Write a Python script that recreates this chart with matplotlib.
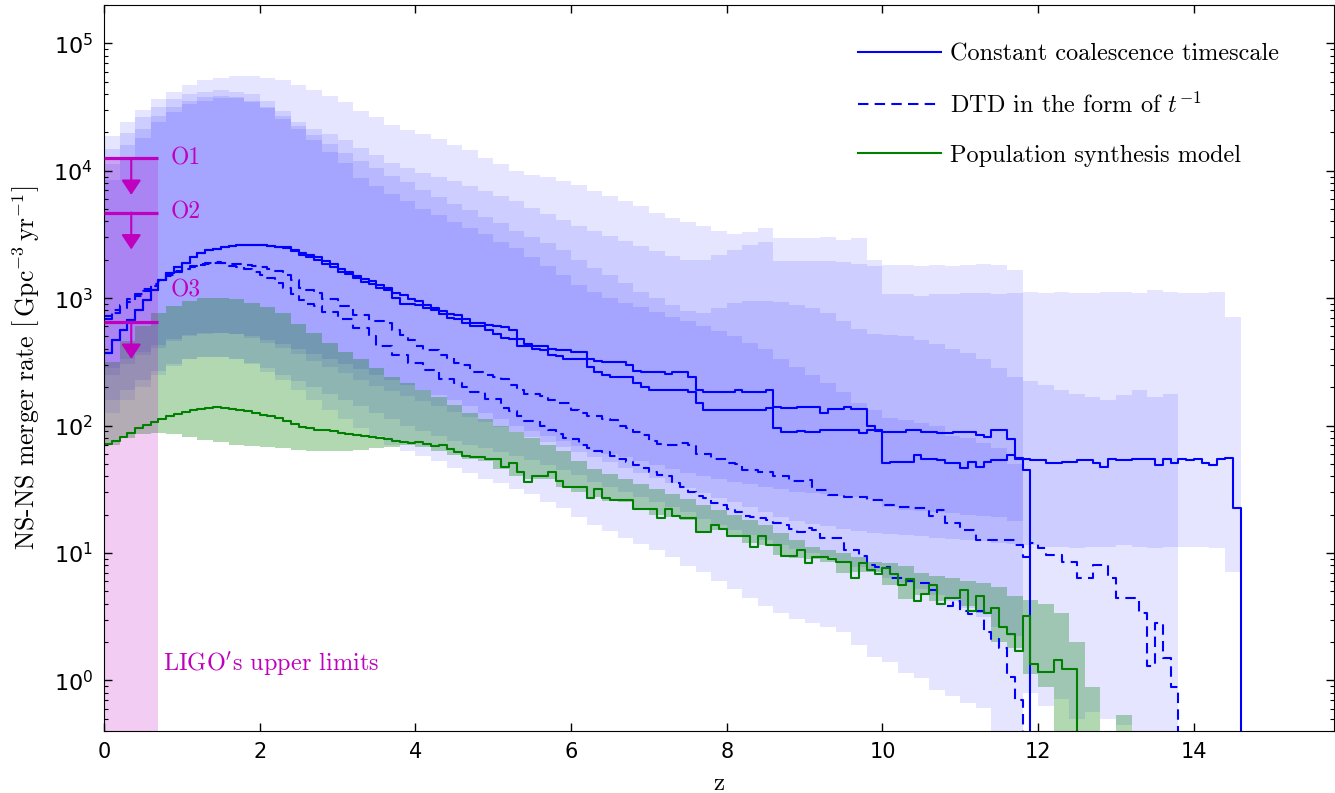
import numpy as np
import matplotlib
matplotlib.use('Agg')
import matplotlib.pyplot as plt
from matplotlib.lines import Line2D

# bin edges in redshift (lines: 0.1 wide, bands: 0.2 wide)
line_edges = np.round(np.arange(0, 14.65, 0.1), 1)
band_edges = np.round(np.arange(0, 14.65, 0.2), 1)

# --- merger rate curves [Gpc^-3 yr^-1], one value per 0.1 bin starting at z=0
solid_a = [368, 469, 562, 673, 807, 967, 1160, 1390, 1570, 1750,
           1900, 2100, 2250, 2380, 2420, 2530, 2560, 2610, 2630, 2630,
           2610, 2570, 2540, 2500, 2390, 2250, 2200, 2100, 1950, 1850,
           1700, 1600, 1500, 1420, 1360, 1260, 1200, 1100, 1064, 980,
           944, 880, 837, 790, 755, 740, 680, 640, 633, 610,
           608, 590, 560, 480, 440, 424, 424, 400, 392, 392,
           380, 380, 330, 320, 313, 313, 313, 300, 270, 262,
           262, 262, 255, 262, 262, 240, 190, 183, 183, 183,
           183, 190, 183, 183, 183, 190, 140, 138, 138, 140,
           140, 140, 125, 135, 135, 141, 135, 135, 100, 91,
           89, 89, 89, 92, 92, 89, 89, 88, 88, 89,
           89, 89, 84, 82, 92, 92, 78, 56, 45]
solid_b = [368, 469, 562, 673, 807, 967, 1160, 1390, 1570, 1750,
           1900, 2100, 2250, 2380, 2420, 2530, 2560, 2600, 2620, 2620,
           2600, 2560, 2520, 2470, 2350, 2180, 2120, 2000, 1850, 1750,
           1600, 1550, 1450, 1350, 1300, 1200, 1150, 1000, 907, 907,
           880, 837, 800, 755, 700, 680, 640, 608, 600, 560,
           520, 490, 478, 424, 420, 400, 392, 361, 350, 334,
           334, 334, 290, 262, 250, 242, 242, 242, 215, 200,
           190, 190, 190, 190, 190, 183, 150, 133, 133, 133,
           133, 133, 133, 133, 133, 138, 95, 89, 89, 90,
           89, 89, 92, 92, 92, 92, 92, 87, 92, 92,
           50.5, 52, 52, 52, 58.6, 55, 55, 53.6, 50.5, 50.5,
           46, 52, 47.5, 52, 53.6, 53.6, 58.6, 55, 55, 53.6,
           53.6, 50.5, 50.5, 52, 52, 53.6, 53.6, 50.5, 47.5, 55,
           53.6, 53.6, 55, 55, 55, 49, 55, 51, 55, 53.6,
           55, 50.5, 49, 55, 56, 22.4]
dashed_a = [680, 760, 840, 940, 1040, 1140, 1250, 1370, 1490, 1590,
            1690, 1770, 1830, 1870, 1890, 1880, 1800, 1750, 1680, 1600,
            1520, 1450, 1320, 1200, 1080, 960, 900, 871, 773, 773,
            685, 685, 583, 583, 500, 424, 424, 361, 361, 308,
            308, 273, 273, 233, 233, 215, 200, 183, 183, 162,
            162, 138, 130, 118, 109, 109, 100, 92, 86, 80,
            79, 70, 67, 63, 62, 58, 55, 52, 49, 46,
            43, 41, 40, 35.5, 33, 30, 28, 27, 24.5, 23.8,
            22, 21, 19.5, 19, 18.7, 18, 17.3, 16.5, 15.3, 14.7,
            15.6, 15.1, 13, 13, 13, 10.5, 10.5, 9.5, 8.0, 7.8,
            7.8, 6.3, 6.3, 6.0, 5.8, 5.8, 5.1, 4.0, 3.8, 4.2,
            3.5, 3.3, 3.5, 2.4, 2.1, 1.8, 1.07, 0.7]
dashed_b = [720, 800, 880, 980, 1080, 1180, 1280, 1400, 1520, 1620,
            1710, 1790, 1850, 1890, 1910, 1900, 1870, 1850, 1820, 1780,
            1740, 1700, 1620, 1520, 1400, 1200, 1150, 1100, 982, 982,
            871, 871, 743, 743, 658, 658, 640, 560, 518, 470,
            424, 392, 392, 360, 339, 310, 296, 262, 262, 250,
            242, 230, 207, 190, 176, 176, 169, 160, 150, 150,
            133, 125, 118, 118, 113, 110, 100, 95, 89, 85,
            76, 72, 70, 70, 73, 70, 60, 60, 55, 55,
            51, 50, 45, 45, 43, 43, 40, 40, 37, 37,
            37.3, 31.2, 31.2, 28.5, 28.5, 27.6, 27.6, 27.6, 26, 26,
            23.8, 23.8, 23.1, 23.1, 22.4, 22.4, 19.6, 21.7, 17.1, 17.1,
            15.1, 15.1, 12.6, 12.6, 12.6, 12.6, 12.6, 11.5, 9.3, 11.9,
            10.9, 9.6, 9.6, 8.5, 8.5, 6.3, 6.3, 8.0, 8.0, 6.3,
            4.4, 4.4, 4.4, 3.4, 1.3, 2.8, 1.5, 0.89]
popsyn = [72, 76, 82, 88, 95, 101, 107, 113, 119, 124,
          128, 132, 135, 138, 139, 138, 136, 133, 130, 126,
          122, 118, 114, 108, 103, 97, 95, 93, 92, 90,
          88, 86, 85, 83, 82, 80, 78, 76, 74, 73,
          74, 72, 69, 70, 66, 62, 58, 57, 57, 55,
          55, 47, 51, 43, 36, 40, 40, 43, 37, 33,
          33, 33, 27, 31.5, 27, 26, 26, 26, 22, 22,
          22, 18.7, 22, 19.5, 18.7, 18.7, 14.7, 14.7, 16.6, 15.3,
          13.6, 13.6, 13.6, 11.1, 13.6, 11.6, 11.6, 9.5, 9.5, 10.5,
          8.3, 9.3, 9.3, 9.0, 8.5, 8.5, 6.3, 8.3, 7.3, 6.8,
          7.6, 6.8, 5.6, 6.2, 4.2, 4.8, 5.6, 4.0, 4.4, 4.4,
          5.1, 3.5, 4.6, 3.4, 3.7, 2.6, 2.3, 1.7, 3.2, 1.35,
          1.17, 1.17, 1.45, 1.23, 1.23]

# --- uncertainty bands, log10 of rate, one value per 0.2 bin starting at z=0
band_sa_hi = [4.27, 4.38, 4.48, 4.56, 4.62, 4.67, 4.71, 4.73, 4.74, 4.74,
              4.73, 4.71, 4.67, 4.63, 4.59, 4.54, 4.47, 4.42, 4.36, 4.32,
              4.29, 4.25, 4.20, 4.16, 4.10, 4.05, 4.00, 3.97, 3.95, 3.92,
              3.89, 3.84, 3.80, 3.76, 3.72, 3.67, 3.63, 3.60, 3.57, 3.53,
              3.50, 3.52, 3.55, 3.47, 3.47, 3.47, 3.48, 3.46, 3.47, 3.30,
              3.26, 3.26, 3.25, 3.26, 3.25, 3.26, 3.27, 3.26, 3.22]
band_sa_lo = [2.45, 2.52, 2.58, 2.63, 2.68, 2.71, 2.73, 2.73, 2.72, 2.70,
              2.67, 2.64, 2.60, 2.56, 2.52, 2.48, 2.44, 2.40, 2.36, 2.32,
              2.28, 2.24, 2.20, 2.15, 2.10, 2.05, 2.00, 1.96, 1.92, 1.88,
              1.84, 1.81, 1.78, 1.75, 1.72, 1.69, 1.66, 1.63, 1.60, 1.58,
              1.56, 1.54, 1.52, 1.50, 1.48, 1.47, 1.46, 1.45, 1.44, 1.42,
              1.36, 1.34, 1.33, 1.32, 1.31, 1.30, 1.29, 1.28, 1.25]
band_sb_hi = [4.17, 4.30, 4.42, 4.50, 4.56, 4.60, 4.62, 4.63, 4.62, 4.60,
              4.55, 4.47, 4.38, 4.33, 4.29, 4.24, 4.18, 4.12, 4.06, 4.02,
              3.98, 3.95, 3.92, 3.88, 3.84, 3.80, 3.76, 3.71, 3.66, 3.61,
              3.57, 3.53, 3.49, 3.45, 3.41, 3.37, 3.33, 3.30, 3.30, 3.34,
              3.38, 3.42, 3.44, 3.29, 3.29, 3.29, 3.29, 3.28, 3.27, 3.25,
              3.03, 3.03, 3.02, 3.03, 3.03, 3.04, 3.04, 3.03, 3.04, 3.05,
              3.04, 3.05, 3.04, 3.04, 3.05, 3.05, 3.04, 3.06, 3.05, 3.04,
              3.04, 3.05, 2.85]
band_sb_lo = [2.40, 2.48, 2.55, 2.61, 2.66, 2.70, 2.72, 2.73, 2.72, 2.69,
              2.65, 2.61, 2.56, 2.51, 2.46, 2.41, 2.36, 2.31, 2.27, 2.23,
              2.19, 2.15, 2.11, 2.07, 2.03, 1.99, 1.95, 1.91, 1.87, 1.83,
              1.79, 1.75, 1.71, 1.67, 1.63, 1.59, 1.55, 1.51, 1.47, 1.43,
              1.40, 1.36, 1.32, 1.28, 1.25, 1.23, 1.21, 1.19, 1.17, 1.16,
              1.15, 1.14, 1.13, 1.12, 1.11, 1.10, 1.09, 1.08, 1.07, 1.06,
              1.05, 1.05, 1.04, 1.05, 1.05, 1.06, 1.05, 1.04, 1.05, 1.05,
              1.05, 1.04, 0.85]
band_da_hi = [3.93, 4.10, 4.26, 4.38, 4.46, 4.52, 4.55, 4.57, 4.57, 4.54,
              4.49, 4.41, 4.33, 4.24, 4.15, 4.06, 3.94, 3.88, 3.82, 3.76,
              3.70, 3.65, 3.60, 3.55, 3.50, 3.44, 3.39, 3.32, 3.25, 3.18,
              3.10, 3.05, 3.00, 2.96, 2.93, 2.89, 2.85, 2.82, 2.78, 2.74,
              2.70, 2.65, 2.60, 2.52, 2.46, 2.40, 2.33, 2.26, 2.18, 2.12,
              2.06, 2.04, 2.02, 2.00, 1.92, 1.90, 1.86, 1.82, 1.70]
band_da_lo = [2.20, 2.28, 2.36, 2.43, 2.48, 2.52, 2.54, 2.54, 2.52, 2.49,
              2.45, 2.40, 2.35, 2.30, 2.25, 2.20, 2.15, 2.10, 2.05, 2.00,
              1.96, 1.92, 1.88, 1.85, 1.82, 1.79, 1.76, 1.73, 1.69, 1.65,
              1.61, 1.56, 1.52, 1.48, 1.44, 1.40, 1.36, 1.32, 1.27, 1.22,
              1.18, 1.14, 1.10, 1.06, 1.03, 1.00, 0.97, 0.93, 0.89, 0.85,
              0.80, 0.76, 0.72, 0.67, 0.62, 0.57, 0.50, 0.42, 0.35]
band_db_hi = [4.05, 4.20, 4.33, 4.43, 4.50, 4.55, 4.58, 4.59, 4.58, 4.55,
              4.50, 4.43, 4.35, 4.28, 4.21, 4.14, 4.08, 4.02, 3.96, 3.91,
              3.85, 3.79, 3.74, 3.69, 3.64, 3.59, 3.53, 3.48, 3.43, 3.38,
              3.30, 3.24, 3.18, 3.12, 3.05, 3.00, 2.95, 2.90, 2.88, 2.92,
              2.96, 2.98, 2.98, 2.97, 2.95, 2.92, 2.88, 2.82, 2.76, 2.72,
              2.71, 2.70, 2.67, 2.64, 2.60, 2.57, 2.52, 2.45, 2.38, 2.35,
              2.32, 2.28, 2.25, 2.22, 2.20, 2.24, 2.28, 2.22, 2.25]
band_db_lo = [2.10, 2.20, 2.30, 2.40, 2.47, 2.52, 2.54, 2.54, 2.52, 2.48,
              2.42, 2.36, 2.28, 2.20, 2.12, 2.05, 1.98, 1.92, 1.85, 1.80,
              1.76, 1.72, 1.67, 1.63, 1.58, 1.55, 1.50, 1.46, 1.40, 1.35,
              1.28, 1.22, 1.17, 1.12, 1.07, 1.02, 0.97, 0.90, 0.85, 0.78,
              0.72, 0.65, 0.58, 0.53, 0.48, 0.45, 0.42, 0.38, 0.28, 0.18,
              0.14, 0.06, 0.02, -0.08, -0.12, -0.18, -0.22, -0.50, -0.60, -0.10,
              -0.20, -0.15, -0.30, -0.25, -0.30, -0.35, -0.45, -0.55, -0.60]
band_ps_hi = [2.50, 2.66, 2.78, 2.88, 2.94, 2.98, 3.00, 3.00, 2.99, 2.96,
              2.93, 2.88, 2.80, 2.73, 2.65, 2.58, 2.52, 2.45, 2.38, 2.33,
              2.28, 2.22, 2.16, 2.10, 2.05, 2.00, 1.95, 1.90, 1.85, 1.80,
              1.72, 1.66, 1.62, 1.58, 1.54, 1.50, 1.46, 1.42, 1.38, 1.34,
              1.30, 1.26, 1.22, 1.16, 1.10, 1.05, 1.02, 1.00, 0.97, 0.93,
              0.92, 0.90, 0.84, 0.82, 0.80, 0.78, 0.76, 0.73, 0.66, 0.63,
              0.60, 0.53, 0.30, -0.05, -0.60, -0.27]
band_ps_lo = [1.85, 1.90, 1.93, 1.94, 1.93, 1.91, 1.89, 1.87, 1.85, 1.84,
              1.83, 1.82, 1.81, 1.80, 1.80, 1.80, 1.81, 1.82, 1.83, 1.85,
              1.83, 1.80, 1.77, 1.74, 1.72, 1.66, 1.60, 1.58, 1.58, 1.52,
              1.48, 1.44, 1.41, 1.40, 1.34, 1.30, 1.28, 1.26, 1.17, 1.18,
              1.13, 1.08, 1.06, 0.98, 0.96, 0.95, 0.93, 0.84, 0.85, 0.85,
              0.75, 0.64, 0.67, 0.62, 0.65, 0.58, 0.53, 0.30, 0.25, 0.05,
              -0.05, -0.40, -0.60, -0.60, -0.60, -0.60]

# LIGO upper limits
ligo_runs = ['O1', 'O2', 'O3']
ligo_limits = [12600, 4700, 650]
ligo_label_y = [12600, 4700, 1150]
ligo_zmax = 0.7

legend_labels = ['Constant coalescence timescale',
                 r'DTD in the form of $t^{-1}$',
                 'Population synthesis model']

CM = 'cmr10'


def draw_line(ax, vals, **kw):
    vals = np.asarray(vals, float)
    n = len(vals)
    x = np.r_[line_edges[:n + 1], line_edges[n]]
    y = np.r_[vals, vals[-1], 1e-3]
    ax.step(x, y, where='post', **kw)


def draw_band(ax, lo, hi, color, alpha):
    lo = np.asarray(lo, float)
    hi = np.asarray(hi, float)
    n = len(lo)
    ax.stairs(10 ** hi, band_edges[:n + 1], baseline=10 ** lo, fill=True,
              color=color, alpha=alpha, lw=0)


fig = plt.figure(figsize=(13.35, 7.93), dpi=100)
ax = fig.add_axes([104 / 1335, 62 / 793, 1230 / 1335, 726 / 793])
ax.set_yscale('log')

for lo, hi in [(band_sa_lo, band_sa_hi), (band_sb_lo, band_sb_hi),
               (band_da_lo, band_da_hi), (band_db_lo, band_db_hi)]:
    draw_band(ax, lo, hi, 'b', 0.1)
draw_band(ax, band_ps_lo, band_ps_hi, 'g', 0.3)

# shaded region below the O1 limit
ax.fill_between([0, ligo_zmax], 1e-3, ligo_limits[0], color='m', alpha=0.2, lw=0)

dash = (0, (5, 3))
draw_line(ax, solid_a, color='b', lw=1.5)
draw_line(ax, solid_b, color='b', lw=1.5)
draw_line(ax, dashed_a, color='b', lw=1.5, ls=dash)
draw_line(ax, dashed_b, color='b', lw=1.5, ls=dash)
draw_line(ax, popsyn, color='g', lw=1.5)

# upper limits with arrows
ax.hlines(ligo_limits, 0, ligo_zmax, colors='m', lw=2.3, zorder=4)
for run, lim, ly in zip(ligo_runs, ligo_limits, ligo_label_y):
    ax.annotate('', xy=(ligo_zmax / 2, lim / 1.95), xytext=(ligo_zmax / 2, lim),
                arrowprops=dict(arrowstyle='-|>,head_length=0.45,head_width=0.3',
                                color='m', lw=1.5, shrinkA=0, shrinkB=0,
                                mutation_scale=20), zorder=4)
    ax.text(0.85, ly, run, color='m', fontsize=17, fontfamily=CM,
            va='center', ha='left')
ax.text(0.76, 1.35, r"LIGO$'$s upper limits", color='m', fontsize=17.5,
        fontfamily=CM, math_fontfamily='cm', va='center', ha='left')

ax.set_xlim(0, 15.8)
ax.set_ylim(0.4, 2e5)
ax.set_xticks(np.arange(0, 15, 2))
ax.tick_params(which='both', direction='in', top=True, right=True)
ax.tick_params(which='major', length=6, width=1, labelsize=15, pad=8)
ax.tick_params(axis='y', which='major', labelsize=16)
ax.tick_params(which='minor', length=3, width=0.8)

ax.set_xlabel('z', fontsize=18, fontfamily=CM, labelpad=8)
ax.set_ylabel(r'NS-NS merger rate $\left[\,\mathrm{Gpc}^{-3}\,\mathrm{yr}^{-1}\right]$',
              fontsize=18.5, fontfamily=CM, math_fontfamily='cm', labelpad=8)

handles = [Line2D([], [], color='b', lw=1.5),
           Line2D([], [], color='b', lw=1.5, ls=dash),
           Line2D([], [], color='g', lw=1.5)]
leg = ax.legend(handles, legend_labels, loc='upper left',
                bbox_to_anchor=(0.613, 0.947), frameon=False,
                handlelength=3.4, handletextpad=0.4, labelspacing=1.1,
                borderpad=0, borderaxespad=0, prop={'family': CM, 'size': 17.5})
for t in leg.get_texts():
    t.set_math_fontfamily('cm')

fig.savefig('out.png', dpi=100)
